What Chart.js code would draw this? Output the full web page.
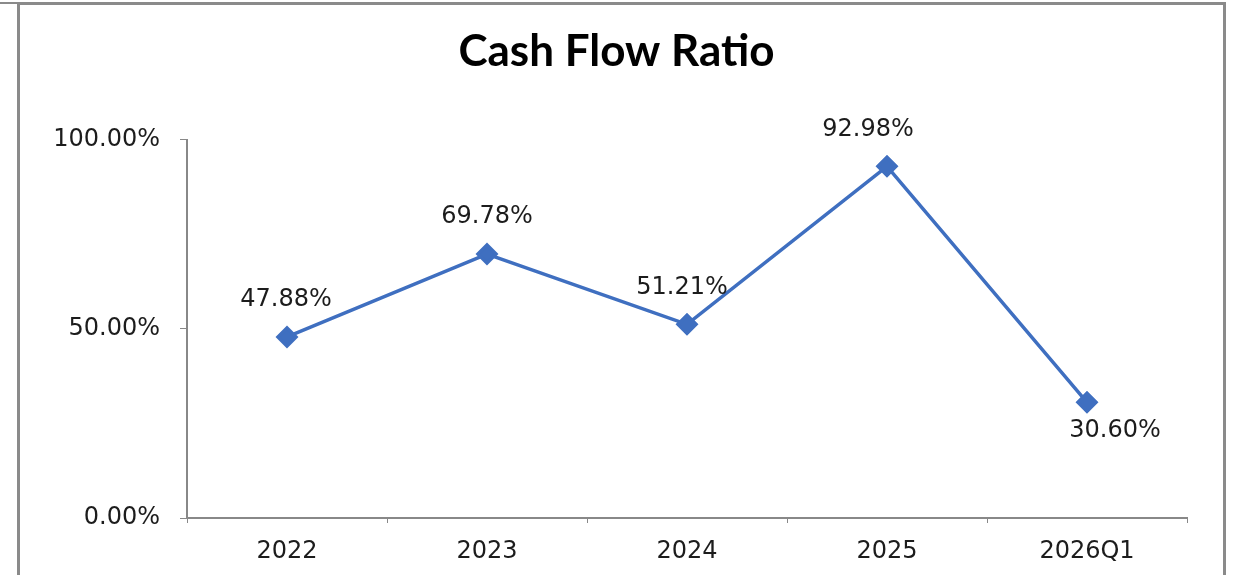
<!DOCTYPE html>
<html>
<head>
<meta charset="utf-8">
<script src="https://cdn.jsdelivr.net/npm/chart.js@4.4.1/dist/chart.umd.min.js"></script>
<style>
  html, body { margin: 0; padding: 0; background: #fff; }
  #wrap { position: relative; width: 1233px; height: 575px; overflow: hidden; }
  #frame {
    position: absolute; left: 17px; top: 2px; width: 1203px; height: 600px;
    border: 3px solid #8a8a8a; border-bottom: none;
  }
  #edge { position: absolute; left: 0; top: 2px; width: 20px; height: 2px; background: #8a8a8a; }
  canvas { position: absolute; left: 0; top: 0; }
</style>
</head>
<body>
<div id="wrap">
  <div id="frame"></div>
  <div id="edge"></div>
  <canvas id="chart" width="1233" height="575"></canvas>
</div>
<script>
const categories = ["2022", "2023", "2024", "2025", "2026Q1"];
const ratioValues = [47.88, 69.78, 51.21, 92.98, 30.60];
const yTicks = [0, 50, 100];
// where each value label sits next to its point
const labelSide = ["above", "above", "above", "above", "below"];
const labelShift = [-1, 0, -5, -19, 28];

const textColor = "#1c1c1c";
const lineColor = "#3f6fc0";

// draws the % labels next to each point
const pointLabels = {
  id: "pointLabels",
  afterDatasetsDraw(chart) {
    const ctx = chart.ctx;
    const meta = chart.getDatasetMeta(0);
    ctx.save();
    ctx.font = "24px 'DejaVu Sans'";
    ctx.fillStyle = textColor;
    ctx.textAlign = "center";
    ctx.textBaseline = "middle";
    meta.data.forEach((pt, i) => {
      const dy = labelSide[i] === "above" ? -37 : 28;
      ctx.fillText(ratioValues[i].toFixed(2) + "%", pt.x + labelShift[i], pt.y + dy);
    });
    ctx.restore();
  }
};

new Chart(document.getElementById("chart"), {
  type: "line",
  data: {
    labels: categories,
    datasets: [{
      label: "Cash Flow Ratio",
      data: ratioValues,
      borderColor: lineColor,
      backgroundColor: lineColor,
      borderWidth: 3.5,
      pointStyle: "rectRot",
      pointRadius: 9,
      pointHoverRadius: 9,
      tension: 0
    }]
  },
  options: {
    responsive: false,
    animation: false,
    layout: { padding: { left: 46, right: 46, top: 0, bottom: 0 } },
    plugins: {
      legend: { display: false },
      tooltip: { enabled: false },
      title: {
        display: true,
        text: "Cash Flow Ratio",
        color: "#000",
        font: { family: "Lato", size: 44, weight: "bold", lineHeight: 1.2 },
        padding: { top: 25, bottom: 62 }
      }
    },
    scales: {
      x: {
        offset: true,
        grid: { display: true, drawOnChartArea: false, offset: true, color: "#888", tickLength: 5 },
        border: { display: true, color: "#888", width: 2 },
        ticks: { color: textColor, font: { family: "'DejaVu Sans'", size: 24 }, padding: 14 },
        afterFit(scale) { scale.height = 57; }
      },
      y: {
        min: 0,
        max: 100,
        afterBuildTicks(scale) { scale.ticks = yTicks.map(v => ({ value: v })); },
        grid: { display: true, drawOnChartArea: false, color: "#888", tickLength: 7 },
        border: { display: true, color: "#888", width: 2 },
        ticks: {
          color: textColor,
          font: { family: "'DejaVu Sans'", size: 24 },
          padding: 20,
          callback: v => v.toFixed(2) + "%"
        },
        afterFit(scale) { scale.width = 141; }
      }
    }
  },
  plugins: [pointLabels]
});
</script>
</body>
</html>
